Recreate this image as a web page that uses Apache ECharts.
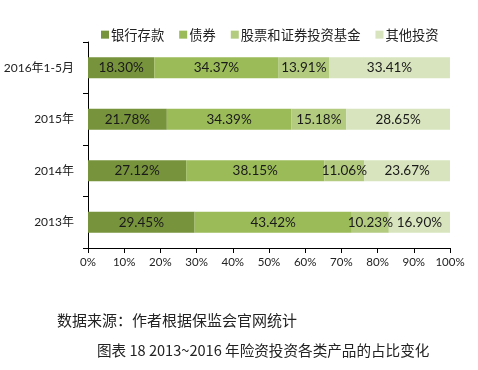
<!DOCTYPE html>
<html><head><meta charset="utf-8">
<script src="https://cdn.jsdelivr.net/npm/echarts@6/dist/echarts.min.js"></script>
<style>html,body{margin:0;padding:0;background:#fff}#c{width:478px;height:370px}</style>
</head><body><div id="c"></div>
<script>
var categories = ['2013年', '2014年', '2015年', '2016年1-5月'];
var seriesNames = ['银行存款', '债券', '股票和证券投资基金', '其他投资'];
var bankDeposits = [29.45, 27.12, 21.78, 18.30];
var bonds = [43.42, 38.15, 34.39, 34.37];
var stocksFunds = [10.23, 11.06, 15.18, 13.91];
var otherInvest = [16.90, 23.67, 28.65, 33.41];
var xTicks = [0, 10, 20, 30, 40, 50, 60, 70, 80, 90, 100];
var sourceText = '数据来源：作者根据保监会官网统计';
var captionText = '图表 18 2013~2016 年险资投资各类产品的占比变化';

var colors = ['#77933C', '#9BBB59', '#B3CB7F', '#D7E4BD'];
var values = [bankDeposits, bonds, stocksFunds, otherInvest];
var chart = echarts.init(document.getElementById('c'));
var series = seriesNames.map(function (n, i) {
  return {
    name: n, type: 'bar', stack: 'all', barWidth: 21,
    itemStyle: { color: colors[i] },
    label: {
      show: true, position: 'inside', color: '#1a1a1a',
      fontFamily: 'Lato', fontSize: 13.5,
      formatter: function (p) { return p.value.toFixed(2) + '%'; }
    },
    data: values[i]
  };
});
chart.setOption({
  animation: false,
  textStyle: { fontFamily: 'Lato, "Noto Sans CJK SC"' },
  legend: {
    top: 23, left: 96, itemWidth: 8, itemHeight: 8, itemGap: 15,
    icon: 'rect',
    textStyle: { fontFamily: '"Noto Sans CJK SC"', fontSize: 13.3, color: '#222', padding: [0, 0, 0, -3] },
    data: seriesNames
  },
  grid: { left: 88, right: 28, top: 42, bottom: 122, containLabel: false },
  xAxis: {
    type: 'value', min: xTicks[0], max: xTicks[xTicks.length - 1], interval: 10,
    axisLine: { show: true, lineStyle: { color: '#000', width: 1 } },
    axisTick: { show: true, length: 5, lineStyle: { color: '#000' } },
    splitLine: { show: false },
    axisLabel: { fontFamily: 'Lato', fontSize: 11.5, color: '#222', margin: 8,
      formatter: function (v) { return v + '%'; } }
  },
  yAxis: {
    type: 'category', data: categories,
    axisLine: { show: true, lineStyle: { color: '#000', width: 1 } },
    axisTick: { show: true, length: 5, lineStyle: { color: '#000' } },
    axisLabel: { fontFamily: 'Lato, "Noto Sans CJK SC"', fontSize: 12, color: '#222', margin: 14 }
  },
  graphic: [
    { type: 'text', left: 57, top: 313, style: { text: sourceText, font: '15px "Noto Sans CJK SC"', fill: '#222' } },
    { type: 'text', left: 97, top: 343, style: { text: captionText, font: '14.6px "Noto Sans CJK SC"', fill: '#222' } }
  ],
  series: series
});
</script></body></html>
